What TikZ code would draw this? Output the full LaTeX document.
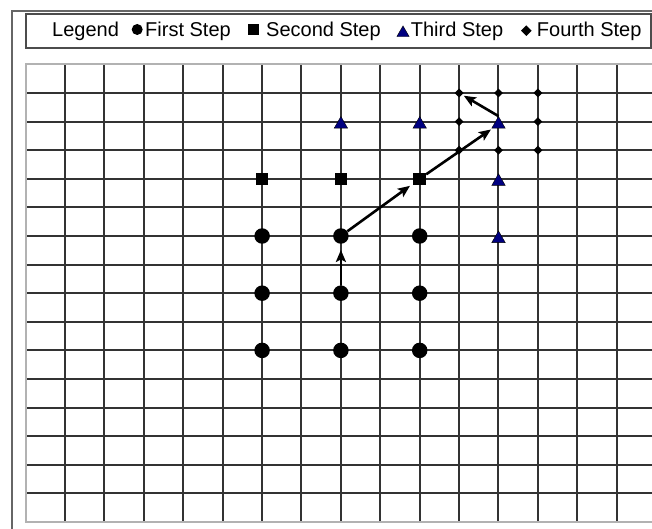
\documentclass[tikz,border=0pt]{standalone}
\usepackage{fontspec}
\setmainfont{Liberation Sans}
\usetikzlibrary{arrows.meta,shapes.geometric}
\definecolor{navy}{RGB}{0,0,128}

\begin{document}
\begin{tikzpicture}[
  x=1pt,
  y=1pt,
  firststep/.style={circle,fill=black,inner sep=0pt,minimum size=15.5pt},
  secondstep/.style={rectangle,fill=black,inner sep=0pt,minimum size=12.5pt},
  thirdstep/.style={regular polygon,regular polygon sides=3,fill=navy,draw=black,line width=0.4pt,inner sep=0pt,minimum size=15.5pt,yshift=-2.7pt},
  fourthstep/.style={diamond,fill=black,inner sep=0pt,minimum size=9pt},
  legtext/.style={anchor=base west,inner sep=0pt,font=\fontsize{20}{24}\selectfont},
  move/.style={-{Stealth[length=12pt,width=10pt,inset=2.5pt]},line width=2.6pt},
  gridline/.style={line width=2pt,black!80},
  gridedge/.style={line width=2pt,black!30},
  frame/.style={line width=2pt,black!60},
  legbox/.style={line width=1.5pt,black!70}
]
\useasboundingbox (0,0) rectangle (652,529);

% frame and legend
\draw[frame] (12,0) -- (12,518) -- (652,518);
\draw[legbox] (26,481) rectangle (651,515);

\node[legtext] (legend) at (52,492) {Legend};
\node[firststep,minimum size=11pt] (lfirst) at (137.2,499.5) {};
\node[legtext] (tfirst) at (145,492) {First Step};
\node[secondstep,minimum size=11pt] (lsecond) at (253.7,499) {};
\node[legtext] (tsecond) at (266,492) {Second Step};
\node[thirdstep,minimum size=14.2pt] (lthird) at (403,498.7) {};
\node[legtext] (tthird) at (410.7,492) {Third Step};
\node[fourthstep,minimum size=10.7pt] (lfourth) at (526.3,498.3) {};
\node[legtext] (tfourth) at (536.7,492) {Fourth Step};

% grid, snapped to whole pixels
\foreach \i in {1,...,15} {
  \pgfmathsetmacro{\gx}{round(25.7+39.4*\i)}
  \draw[gridline] (\gx,7) -- (\gx,465);
}
\foreach \j in {1,...,15} {
  \pgfmathsetmacro{\gy}{round(7+28.6*\j)}
  \draw[gridline] (26,\gy) -- (652,\gy);
}
\draw[gridedge] (652,465) -- (26,465) -- (26,7) -- (652,7);

\begin{scope}[shift={(25.7,7)},x=39.4pt,y=28.6pt]
% first step
\node[firststep] (f1) at (6,10) {};
\node[firststep] (f2) at (8,10) {};
\node[firststep] (f3) at (10,10) {};
\node[firststep] (f4) at (6,8) {};
\node[firststep] (f5) at (8,8) {};
\node[firststep] (f6) at (10,8) {};
\node[firststep] (f7) at (6,6) {};
\node[firststep] (f8) at (8,6) {};
\node[firststep] (f9) at (10,6) {};

% second step
\node[secondstep] (s1) at (6,12) {};
\node[secondstep] (s2) at (8,12) {};
\node[secondstep] (s3) at (10,12) {};

% third step
\node[thirdstep] (t1) at (8,14) {};
\node[thirdstep] (t2) at (10,14) {};
\node[thirdstep] (t3) at (12,14) {};
\node[thirdstep] (t4) at (12,12) {};
\node[thirdstep] (t5) at (12,10) {};

% fourth step
\node[fourthstep] (q1) at (11,15) {};
\node[fourthstep] (q2) at (12,15) {};
\node[fourthstep] (q3) at (13,15) {};
\node[fourthstep] (q4) at (11,14) {};
\node[fourthstep] (q5) at (13,14) {};
\node[fourthstep] (q6) at (11,13) {};
\node[fourthstep] (q7) at (12,13) {};
\node[fourthstep] (q8) at (13,13) {};

% moves
\draw[move,shorten >=6pt] (f5) -- (f2);
\draw[move,shorten >=4pt] (f2) -- (s3);
\draw[move,shorten >=2pt] (s3) -- (t3);
\draw[move,shorten >=2pt] (t3.corner 1) -- (q1);
\end{scope}
\end{tikzpicture}
\end{document}
